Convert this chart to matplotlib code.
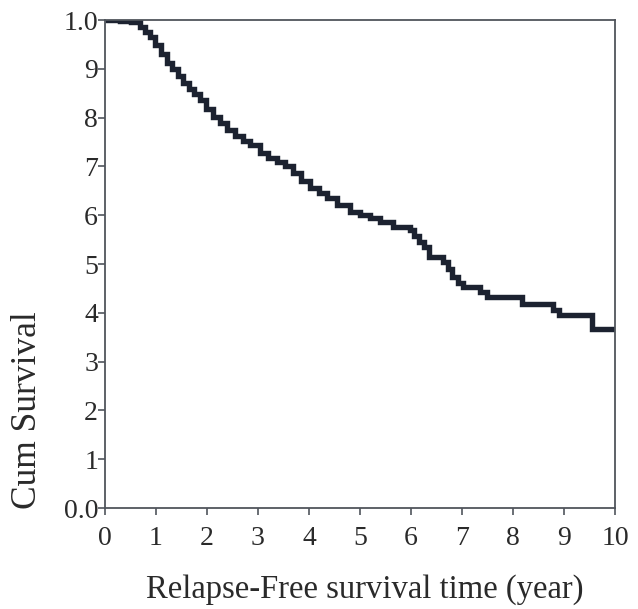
import matplotlib
matplotlib.use("Agg")
import matplotlib.pyplot as plt

times = [0.0, 0.3, 0.5, 0.69, 0.78, 0.88, 0.98, 1.1, 1.21, 1.32, 1.43, 1.53, 1.64,
         1.75, 1.86, 1.99, 2.12, 2.25, 2.39, 2.55, 2.7, 2.84, 3.04, 3.2, 3.37, 3.52,
         3.69, 3.85, 4.02, 4.2, 4.35, 4.55, 4.8, 5.0, 5.2, 5.4, 5.65, 5.98, 6.05,
         6.15, 6.25, 6.35, 6.63, 6.72, 6.8, 6.92, 7.02, 7.35, 7.49, 8.18, 8.78,
         8.9, 9.55, 10.0]
surv = [1.0, 0.998, 0.995, 0.985, 0.975, 0.966, 0.948, 0.93, 0.912, 0.899, 0.885,
        0.871, 0.859, 0.848, 0.836, 0.818, 0.801, 0.788, 0.775, 0.762, 0.752, 0.744,
        0.727, 0.718, 0.709, 0.70, 0.686, 0.67, 0.655, 0.645, 0.635, 0.62, 0.607,
        0.60, 0.594, 0.586, 0.576, 0.570, 0.558, 0.545, 0.535, 0.514, 0.504, 0.49,
        0.473, 0.462, 0.453, 0.443, 0.432, 0.418, 0.405, 0.395, 0.367, 0.367]

xticks = list(range(0, 11))
yticks = [i / 10 for i in range(0, 11)]
ytick_labels = ["0.0", "1", "2", "3", "4", "5", "6", "7", "8", "9", "1.0"]

plt.rcParams['font.family'] = ['Liberation Serif', 'DejaVu Serif']

fig = plt.figure(figsize=(6.38, 6.09), dpi=100)
ax = fig.add_axes([105 / 638, 1 - 508 / 609, 510 / 638, 488 / 609])

ax.step(times, surv, where='post', color='#1c2230', lw=3.9,
        solid_joinstyle='miter', solid_capstyle='butt')

ax.set_xlim(0, 10)
ax.set_ylim(0, 1.0)
ax.set_xticks(xticks)
ax.set_xticklabels([str(t) for t in xticks])
ax.set_yticks(yticks)
ax.set_yticklabels(ytick_labels)
for s in ax.spines.values():
    s.set_color('#50555c')
    s.set_linewidth(1.3)
ax.tick_params(axis='both', colors='#50555c', labelcolor='#2a2a2a',
               labelsize=20, length=5, width=1.2)
ax.tick_params(axis='x', pad=8)
ax.tick_params(axis='y', pad=0)

fig.text(28 / 638, 1 - 410 / 609, 'Cum Survival', rotation=90,
         ha='center', va='center', fontsize=25.5, color='#2a2a2a')
fig.text(365 / 638, 1 - 590 / 609, 'Relapse-Free survival time (year)',
         ha='center', va='center', fontsize=23.5, color='#2a2a2a')

fig.savefig('out.png', dpi=100, facecolor='white')
